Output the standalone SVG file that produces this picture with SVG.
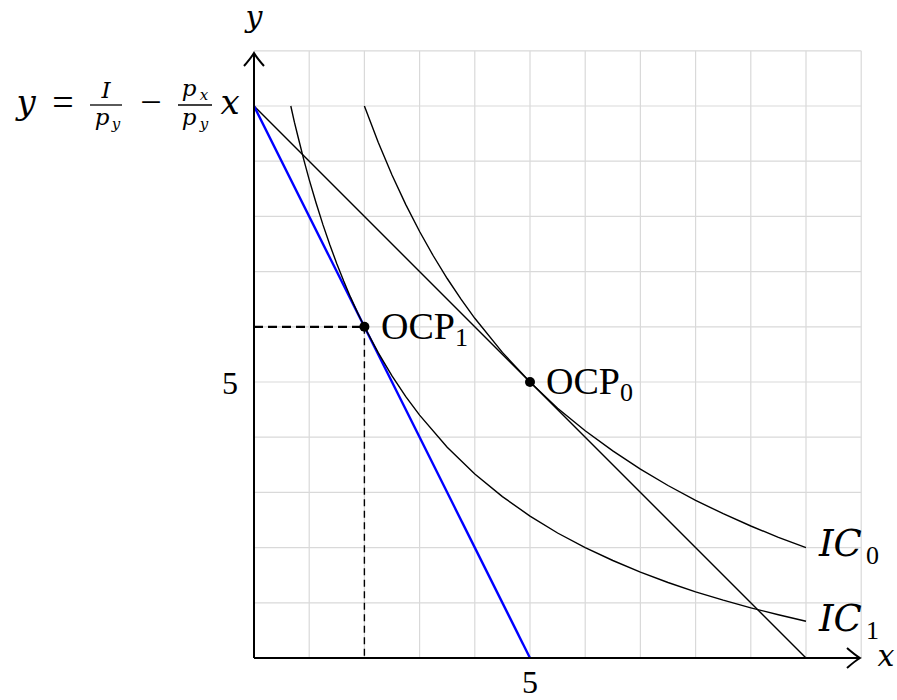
<svg xmlns="http://www.w3.org/2000/svg" width="897" height="700" viewBox="0 0 897 700">
<style>
.grid{stroke:#d9d9d9;stroke-width:1.2;fill:none}
.ax{stroke:#000;stroke-width:2;fill:none}
.crv{stroke:#000;stroke-width:1.4;fill:none}
.t{font-family:"Liberation Serif","DejaVu Serif",serif;fill:#000}
.it{font-family:"DejaVu Serif","Liberation Serif",serif;font-style:italic;fill:#000}
</style>
<rect width="897" height="700" fill="#fff"/>
<g id="grid" class="grid">
<path d="M309.2,50.8V658M364.4,50.8V658M419.6,50.8V658M474.8,50.8V658M530,50.8V658M585.2,50.8V658M640.4,50.8V658M695.6,50.8V658M750.8,50.8V658M806,50.8V658M861.2,50.8V658"/>
<path d="M254,602.8H861.2M254,547.6H861.2M254,492.4H861.2M254,437.2H861.2M254,382H861.2M254,326.8H861.2M254,271.6H861.2M254,216.4H861.2M254,161.2H861.2M254,106H861.2M254,50.8H861.2"/>
</g>
<g id="connectors">
<path id="budget0" class="crv" d="M254,106L806,658"/>
<path id="budget1" d="M254,106L530,658" stroke="#0000ff" stroke-width="2.4" fill="none"/>
<polyline id="ic0" class="crv" points="364.4,106 378.2,142.3 392,175 405.8,204.6 419.6,231.5 433.4,256 447.2,278.5 461,299.2 474.8,318.3 502.4,352.4 530,382 557.6,408.3 585.2,430.7 612.8,450.9 640.4,469.2 668,485.5 695.6,500.3 723.2,513.7 750.8,526 778.4,537.3 806,547.6"/>
<polyline id="ic1" class="crv" points="290.8,106 294.4,122.2 298.2,137.5 303.7,159.4 309.2,179.6 316.1,203 323,224.9 329.9,245 336.8,263.7 343.7,281.1 350.6,297.4 357.5,312.6 364.4,326.8 378.2,352.6 392,375.9 405.8,396.7 419.6,415.1 447.2,447.2 474.8,474 502.4,496.6 530,516.1 557.6,533 585.2,547.6 612.8,560.5 640.4,572.1 668,582.5 695.6,591.8 723.2,600.2 750.8,607.8 778.4,614.8 806,621.2"/>
<path d="M254,326.8H364.4" stroke="#000" stroke-width="2.2" stroke-dasharray="9,5" fill="none"/>
<path d="M364.4,326.8V658" stroke="#000" stroke-width="1.4" stroke-dasharray="7,4.5" fill="none"/>
</g>
<g id="axes">
<path class="ax" d="M254,658H860"/>
<path class="ax" d="M254,658V53"/>
<path class="ax" d="M847,648Q855,655 860,658Q855,661 847,668"/>
<path class="ax" d="M244,66Q251,58 254,53Q257,58 264,66"/>
<text class="it" x="254" y="27" font-size="30" text-anchor="middle">y</text>
<text class="it" x="886" y="666" font-size="30" text-anchor="middle">x</text>
<text class="t" x="530" y="693" font-size="32" text-anchor="middle">5</text>
<text class="t" x="230" y="394" font-size="32" text-anchor="middle">5</text>
</g>
<g id="OCP1">
<circle cx="364.4" cy="326.8" r="5"/>
<text class="t" x="381" y="339" font-size="38">OCP<tspan font-size="26" dy="7">1</tspan></text>
</g>
<g id="OCP0">
<circle cx="530" cy="382" r="5"/>
<text class="t" x="546" y="394" font-size="38">OCP<tspan font-size="26" dy="7">0</tspan></text>
</g>
<g id="IC0">
<text class="it" x="819" y="556" font-size="37">IC</text>
<text class="t" x="866" y="564" font-size="26">0</text>
</g>
<g id="IC1">
<text class="it" x="819" y="631" font-size="37">IC</text>
<text class="t" x="866" y="639" font-size="26">1</text>
</g>
<g id="formula">
<text class="it" x="26" y="114" font-size="34" text-anchor="middle">y</text>
<text class="t" x="63" y="115" font-size="38" text-anchor="middle">=</text>
<text class="it" x="106" y="98" font-size="23" text-anchor="middle">I</text>
<line x1="90" y1="105" x2="122" y2="105" stroke="#000" stroke-width="1.3"/>
<text class="it" x="102" y="125" font-size="23" text-anchor="middle">p</text>
<text class="it" x="116" y="129" font-size="15" text-anchor="middle">y</text>
<text class="t" x="151" y="115" font-size="38" text-anchor="middle">−</text>
<text class="it" x="189" y="96" font-size="23" text-anchor="middle">p</text>
<text class="it" x="204" y="100" font-size="15" text-anchor="middle">x</text>
<line x1="178" y1="105" x2="212" y2="105" stroke="#000" stroke-width="1.3"/>
<text class="it" x="189" y="125" font-size="23" text-anchor="middle">p</text>
<text class="it" x="204" y="129" font-size="15" text-anchor="middle">y</text>
<text class="it" x="230" y="114" font-size="34" text-anchor="middle">x</text>
</g>
</svg>
